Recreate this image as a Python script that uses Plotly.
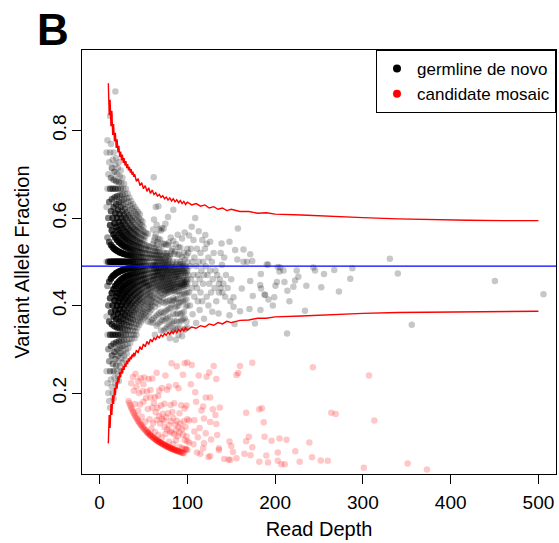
import plotly.graph_objects as go

# ---------------- axes / reference values ----------------
X_TICKS = [0, 100, 200, 300, 400, 500]
Y_TICKS = [0.2, 0.4, 0.6, 0.8]
Y_TICK_TEXT = ["0.2", "0.4", "0.6", "0.8"]
X_RANGE = [-20, 520]
Y_RANGE = [0.015, 0.984]
MEAN_VAF = 0.49

# ---------------- germline de novo: dense low-depth region ----------------
# per read depth: first alt-read count and number of variants at each consecutive alt count
GERM_DENSE_DEPTH = [8, 9, 10, 11, 12, 13, 14, 15, 16, 17, 18, 19, 20, 21, 22, 23, 24, 25, 26, 27,
                    28, 29, 30, 31, 32, 33, 34, 35, 36, 37, 38, 39, 40, 41, 42, 43, 44, 45, 46, 47,
                    48, 49, 50, 51, 52, 53, 54, 55, 56, 57, 58, 59, 60]
GERM_DENSE_K0 = [2, 2, 2, 2, 2, 3, 3, 3, 3, 4, 4, 5, 5, 5, 5, 6, 6, 7, 7, 8,
                 8, 8, 9, 9, 10, 10, 11, 11, 12, 12, 13, 13, 13, 14, 14, 15, 16, 16, 17, 17,
                 18, 18, 19, 19, 20, 20, 21, 20, 21, 22, 21, 23, 22]
GERM_DENSE_COUNTS = [
    "1 1 1 1 1", "1 1 2 2 1 1", "1 2 3 4 3 1", "1 2 4 5 4 3 1",
    "1 2 4 5 6 5 3 1 1", "1 3 5 7 6 4 2 1", "1 3 5 7 7 6 3 2",
    "1 2 4 6 8 7 5 3 1", "1 2 3 6 8 8 7 4 2 1", "1 3 5 7 9 8 6 3 2",
    "1 2 4 7 8 9 7 5 3 1 0 0 1", "2 3 6 8 9 8 6 4 2 1", "1 2 5 7 9 9 7 5 3 1",
    "1 2 4 6 8 9 8 6 4 2 1", "1 1 3 5 7 8 9 7 5 3 2 1", "1 2 4 6 8 8 8 6 4 2 1",
    "1 2 3 5 7 8 8 7 5 3 2 1", "1 2 4 6 7 8 7 6 4 2 1", "1 2 3 5 6 7 7 6 5 3 2 1",
    "1 2 4 5 7 7 7 5 4 2 1", "1 2 3 4 6 7 7 6 4 3 2 1", "1 1 2 4 5 6 7 6 5 3 2 1",
    "1 2 3 4 5 6 6 5 4 3 1 1", "1 1 2 3 5 5 6 5 4 3 2 1", "1 2 3 4 5 5 5 5 4 2 1 1",
    "1 1 2 3 4 5 5 5 4 3 2 1", "1 2 3 4 4 5 5 4 3 2 1 1", "1 1 2 3 4 4 5 4 3 3 2 1",
    "1 2 2 3 4 4 4 4 3 2 1 1", "1 1 2 3 3 4 4 4 3 2 2 1", "1 2 2 3 4 4 4 3 3 2 1 1",
    "1 1 2 2 3 3 4 3 3 2 1 1", "1 1 1 2 3 3 3 3 3 2 2 1 1", "1 1 2 2 3 3 3 3 2 2 1 1",
    "1 1 1 2 2 3 3 3 2 2 2 1 1", "1 1 1 2 2 3 3 2 2 2 1 1", "1 1 2 2 2 3 2 2 2 1 1 1",
    "1 1 1 2 2 2 2 2 2 1 1 1", "1 1 2 2 2 2 2 2 2 1 1 1", "1 1 1 2 2 2 2 2 2 1 1 1",
    "1 1 1 2 2 2 2 2 1 1 1", "1 1 1 1 2 2 2 2 1 1 1 1", "1 1 1 1 2 2 2 1 1 1 1",
    "1 1 1 1 2 2 1 1 1 1 1", "1 1 1 1 2 2 1 1 1 1", "1 0 1 1 2 1 1 1 1 0 1",
    "1 1 1 2 1 1 1 1 1", "1 0 1 1 1 1 1 1 1 1 0 1", "1 1 0 1 2 1 1 1 1 1",
    "1 1 1 1 1 1 1 1 1", "1 0 1 1 1 1 1 1 0 1 1", "1 1 1 1 1 1 1 1",
    "1 0 1 1 1 1 1 1 0 1",
]

# ---------------- germline de novo: mid depths (alt-read counts per depth) ----------------
GERM_MID_DEPTH = [61, 62, 63, 64, 65, 66, 67, 68, 69, 70, 71, 72, 73, 74, 75, 76, 77, 78, 79, 80,
                  81, 82, 83, 84, 85, 86, 87, 88, 89, 90, 91, 92, 93, 94, 95, 96, 97, 98, 99, 100]
GERM_MID_ALTS = [
    [22, 25, 27, 28, 28, 29, 30, 30, 31, 32, 33, 35], [23, 26, 28, 29, 29, 30, 30, 31, 32, 33, 34, 37],
    [21, 25, 27, 28, 29, 30, 31, 31, 32, 33, 35], [24, 26, 28, 29, 30, 31, 31, 32, 33, 34, 36, 40],
    [23, 27, 29, 30, 31, 31, 32, 33, 34, 35, 38], [25, 28, 29, 30, 31, 31, 32, 33, 34, 36],
    [24, 27, 29, 30, 31, 32, 32, 33, 34, 35, 37, 42], [26, 28, 30, 31, 32, 33, 33, 34, 35, 36, 39],
    [25, 29, 30, 31, 32, 33, 34, 35, 36, 38], [24, 27, 30, 31, 32, 33, 34, 34, 35, 36, 40],
    [26, 29, 31, 32, 33, 33, 34, 35, 36, 38, 41], [27, 30, 32, 33, 34, 34, 35, 36, 37, 39],
    [25, 28, 31, 32, 33, 34, 35, 36, 37, 38, 42], [27, 30, 32, 33, 34, 35, 36, 36, 37, 40],
    [26, 29, 32, 33, 34, 35, 36, 37, 38, 39, 44], [28, 31, 33, 34, 35, 36, 37, 38, 39, 41],
    [27, 30, 33, 34, 35, 36, 37, 37, 38, 40], [29, 32, 34, 35, 36, 37, 38, 39, 40, 42, 47],
    [28, 31, 34, 35, 36, 37, 38, 39, 40, 43], [26, 30, 33, 35, 36, 37, 38, 39, 40, 41],
    [29, 32, 35, 36, 37, 38, 39, 42, 45], [28, 33, 36, 37, 38, 39, 40, 43],
    [30, 34, 36, 37, 38, 39, 40, 41, 44], [29, 32, 35, 37, 38, 40, 41, 42, 46, 52],
    [31, 35, 37, 38, 39, 40, 41, 44], [30, 34, 37, 38, 40, 41, 42, 45],
    [28, 33, 36, 39, 40, 41, 42, 43, 47], [32, 35, 38, 39, 40, 41, 42, 44],
    [31, 34, 37, 40, 41, 42, 43, 46, 50], [30, 36, 39, 40, 42, 43, 44, 48],
    [33, 37, 40, 41, 42, 44, 45, 47], [32, 35, 39, 41, 43, 44, 46, 49],
    [34, 38, 41, 42, 44, 45, 46], [31, 36, 40, 42, 43, 45, 46, 48, 52],
    [35, 39, 42, 43, 44, 45, 47], [33, 37, 41, 43, 44, 46, 47, 50],
    [36, 40, 43, 44, 46, 47, 49, 55], [34, 39, 42, 44, 45, 46, 48],
    [36, 41, 44, 45, 47, 48, 51], [35, 40, 43, 45, 46, 48, 50, 53],
]

# ---------------- germline de novo: sparse high-depth points (depth, VAF) ----------------
GERM_SPARSE_DEPTH = [
    101, 101, 102, 102, 103, 103, 104, 104, 105, 105, 106, 106, 107, 107, 108, 108, 109, 109, 110, 110,
    111, 111, 112, 112, 113, 113, 114, 114, 115, 115, 116, 117, 117, 118, 118, 119, 119, 120, 121, 122,
    123, 124, 124, 125, 126, 127, 128, 129, 130, 131, 132, 133, 134, 136, 137, 138, 141, 142, 143, 144,
    146, 149, 150,
    157.6, 120.5, 126, 122, 139, 148, 164, 171.6, 174, 192, 205.7, 209.5, 224.6, 183.7, 243.5, 245.5,
    255.7, 267.4, 288, 285.6, 330.7, 339.8, 450.4, 505.7, 272.7, 252.6, 235.6, 226.5, 222.7, 220.8,
    214, 216.3, 210.6, 202, 200.4, 199, 192.4, 197.4, 187.9, 184, 183.3, 234, 213.6, 355.7, 170.8,
    174.6, 171.6, 162, 152.6, 160, 148, 152.6, 135.6, 177, 153.8, 128.4, 136, 138, 140, 164, 168,
    157, 139.4, 203, 205, 154.5, 183, 188.6, 190.5, 61.7,
]
GERM_SPARSE_VAF = [
    0.47, 0.52, 0.43, 0.56, 0.49, 0.40, 0.46, 0.53, 0.44, 0.58, 0.50, 0.38, 0.47, 0.55, 0.42, 0.51, 0.45, 0.60, 0.49, 0.36,
    0.53, 0.44, 0.47, 0.41, 0.50, 0.57, 0.46, 0.39, 0.52, 0.43, 0.48, 0.55, 0.41, 0.45, 0.50, 0.47, 0.37, 0.53, 0.49, 0.42,
    0.47, 0.51, 0.40, 0.45, 0.48, 0.43, 0.50, 0.46, 0.52, 0.44, 0.48, 0.41, 0.47, 0.43, 0.46, 0.52, 0.45, 0.51, 0.42, 0.47,
    0.44, 0.41, 0.46,
    0.576, 0.561, 0.546, 0.541, 0.542, 0.546, 0.528, 0.517, 0.502, 0.494, 0.487, 0.480, 0.480, 0.472, 0.487, 0.480,
    0.472, 0.481, 0.485, 0.461, 0.507, 0.473, 0.456, 0.426, 0.432, 0.442, 0.445, 0.466, 0.457, 0.443,
    0.434, 0.410, 0.454, 0.454, 0.445, 0.419, 0.414, 0.400, 0.425, 0.439, 0.390, 0.388, 0.336, 0.356, 0.392,
    0.422, 0.456, 0.439, 0.419, 0.387, 0.378, 0.397, 0.382, 0.359, 0.358, 0.386, 0.45, 0.44, 0.43, 0.50, 0.50,
    0.505, 0.493, 0.488, 0.478, 0.527, 0.447, 0.424, 0.494, 0.693,
]

# ---------------- candidate mosaic: low/mid depths (alt-read counts per depth) ----------------
RED_ARC_DEPTH = [33, 34, 35, 36, 37, 38, 39, 40, 41, 42, 43, 44, 45, 46, 47, 48, 49, 50, 51, 52,
                 53, 54, 55, 56, 57, 58, 59, 60, 61, 62, 63, 64, 65, 66, 67, 68, 69, 70, 71, 72,
                 73, 74, 75, 76, 77, 78, 79, 80, 81, 82, 83, 84, 85, 86, 87, 88, 89, 90, 91, 92,
                 93, 94, 95, 96, 97, 98, 99, 100]
RED_ARC_ALTS = [
    [6], [6], [6], [6, 8], [6], [6, 9], [6, 8], [6, 7],
    [6, 10], [6, 9], [6], [6, 7, 10], [6, 9], [6, 8],
    [6, 11], [6, 7], [6, 10], [6, 9, 11], [6, 12], [6, 7],
    [6, 10], [6, 11], [6, 6, 9], [6, 13], [6, 8], [6, 6, 11, 12],
    [6, 7], [6, 10, 14], [6, 6, 8], [6, 11], [6, 7, 12], [6, 6, 10],
    [6, 9, 16], [6, 6, 11], [6, 7, 13], [6, 6, 10, 14], [6, 9], [6, 6, 12],
    [6, 7, 10, 15], [6, 6, 11], [6, 10], [6, 6, 9, 13], [6, 8, 18], [6, 6, 11],
    [6, 9, 16], [6, 6, 12], [6, 7, 10, 17], [6, 6, 9], [6, 11, 14], [6, 6, 9, 22],
    [6, 13], [6, 6, 7, 12], [6, 9, 15], [6, 6, 11], [6, 8, 10, 19], [6, 12, 23],
    [6, 6, 9], [6, 11, 19], [6, 7, 10, 14], [6, 12], [6, 16], [6, 7, 11],
    [6, 10, 23], [6, 13], [7, 9, 16, 26], [7, 12], [7, 10, 17], [7, 9, 14, 27],
]

# ---------------- candidate mosaic: sparse high-depth points (depth, VAF) ----------------
RED_SPARSE_DEPTH = [
    105, 109, 108, 108, 102, 102, 107, 111, 115, 118, 118, 119, 119, 121, 121, 122, 124, 125, 126, 126,
    126, 127, 129, 130, 132, 133, 133, 134, 136, 136, 137, 142, 147, 148, 149, 150, 152, 156, 156, 158,
    160, 165, 167, 167, 170, 172, 174, 174, 182, 182, 185, 187, 188, 190, 192, 196, 203, 203, 205, 207,
    211, 213, 223, 228, 239, 242, 243, 252, 260, 264, 269, 301, 307, 313, 351, 373,
    112, 114, 110, 116, 104, 113,
]
RED_SPARSE_VAF = [
    0.264, 0.202, 0.138, 0.112, 0.137, 0.087, 0.083, 0.064, 0.061, 0.169, 0.074, 0.085, 0.142, 0.190, 0.108, 0.237, 0.054, 0.247, 0.190, 0.134,
    0.056, 0.094, 0.163, 0.262, 0.150, 0.129, 0.232, 0.104, 0.074, 0.070, 0.167, 0.049, 0.048, 0.089, 0.047, 0.079, 0.065, 0.051, 0.241, 0.246,
    0.262, 0.061, 0.090, 0.155, 0.100, 0.058, 0.076, 0.269, 0.043, 0.163, 0.165, 0.133, 0.100, 0.057, 0.041, 0.091, 0.064, 0.045, 0.096, 0.037,
    0.037, 0.093, 0.067, 0.043, 0.087, 0.053, 0.259, 0.046, 0.045, 0.155, 0.152, 0.029, 0.240, 0.137, 0.039, 0.025,
    0.099, 0.120, 0.180, 0.160, 0.220, 0.240,
]

# ---------------- threshold curves ----------------
THR_DEPTH = ([10, 11, 12, 13, 14, 15, 16, 17, 18, 19, 20, 21, 22, 23, 24, 25, 26, 27, 28, 29,
              30, 31, 32, 33, 34, 35, 36, 37, 38, 39]
             + [40, 42, 44, 46, 48, 50, 52, 54, 56, 58, 60, 62, 64, 66, 68, 70, 72, 74, 76, 78,
                80, 82, 84, 86, 88, 90, 92, 94, 96, 98, 100]
             + [105, 110, 115, 120, 125, 130, 135, 140, 145, 150]
             + [160, 170, 180, 190, 200]
             + [230, 270, 300, 340, 380, 420, 460, 500])
THR_UPPER = ([0.908, 0.835, 0.870, 0.810, 0.845, 0.790, 0.815, 0.775, 0.795, 0.760, 0.780, 0.750, 0.765, 0.740, 0.752,
              0.732, 0.745, 0.726, 0.737, 0.720, 0.730, 0.714, 0.723, 0.709, 0.717, 0.704, 0.712, 0.699, 0.706, 0.694]
             + [0.700, 0.684, 0.690, 0.674, 0.681, 0.667, 0.674, 0.661, 0.669, 0.656, 0.664, 0.654, 0.658, 0.650, 0.654,
                0.647, 0.651, 0.644, 0.648, 0.641, 0.646, 0.639, 0.644, 0.637, 0.642, 0.635, 0.640, 0.633, 0.638, 0.631, 0.636]
             + [0.630, 0.633, 0.627, 0.630, 0.623, 0.626, 0.620, 0.623, 0.617, 0.620]
             + [0.615, 0.615, 0.611, 0.612, 0.609]
             + [0.607, 0.603, 0.601, 0.598, 0.596, 0.595, 0.594, 0.594])
THR_LOWER = ([0.085, 0.150, 0.120, 0.175, 0.150, 0.195, 0.175, 0.212, 0.195, 0.226, 0.210, 0.238, 0.224, 0.248, 0.236,
              0.256, 0.245, 0.262, 0.253, 0.268, 0.260, 0.274, 0.266, 0.279, 0.272, 0.283, 0.277, 0.288, 0.282, 0.292]
             + [0.284, 0.298, 0.292, 0.306, 0.299, 0.312, 0.306, 0.318, 0.311, 0.323, 0.317, 0.326, 0.322, 0.330, 0.326,
                0.333, 0.329, 0.336, 0.332, 0.339, 0.334, 0.341, 0.336, 0.343, 0.338, 0.345, 0.340, 0.347, 0.342, 0.349, 0.344]
             + [0.351, 0.348, 0.354, 0.351, 0.358, 0.355, 0.361, 0.358, 0.364, 0.361]
             + [0.366, 0.367, 0.371, 0.371, 0.374]
             + [0.376, 0.380, 0.382, 0.384, 0.385, 0.386, 0.387, 0.387])

# ---------------- build point lists ----------------
gx, gy = [], []
for n, k0, s in zip(GERM_DENSE_DEPTH, GERM_DENSE_K0, GERM_DENSE_COUNTS):
    for i, c in enumerate(s.split()):
        for _ in range(int(c)):
            gx.append(n)
            gy.append((k0 + i) / n)
for n, alts in zip(GERM_MID_DEPTH, GERM_MID_ALTS):
    for k in alts:
        gx.append(n)
        gy.append(k / n)
gx += GERM_SPARSE_DEPTH
gy += GERM_SPARSE_VAF

rx, ry = [], []
for n, alts in zip(RED_ARC_DEPTH, RED_ARC_ALTS):
    for k in alts:
        rx.append(n)
        ry.append(k / n)
rx += RED_SPARSE_DEPTH
ry += RED_SPARSE_VAF

FONT = "Liberation Sans, Arial, Helvetica, sans-serif"

fig = go.Figure()
fig.add_trace(go.Scatter(x=gx, y=gy, mode="markers", showlegend=False, hoverinfo="skip",
                         marker=dict(color="rgba(0,0,0,0.22)", size=6.5, line=dict(width=0))))
fig.add_trace(go.Scatter(x=rx, y=ry, mode="markers", showlegend=False, hoverinfo="skip",
                         marker=dict(color="rgba(255,0,0,0.22)", size=6.5, line=dict(width=0))))
fig.add_trace(go.Scatter(x=THR_DEPTH, y=THR_UPPER, mode="lines", showlegend=False,
                         line=dict(color="#ff0000", width=1.4)))
fig.add_trace(go.Scatter(x=THR_DEPTH, y=THR_LOWER, mode="lines", showlegend=False,
                         line=dict(color="#ff0000", width=1.4)))
fig.add_hline(y=MEAN_VAF, line=dict(color="#0000ff", width=1.3))

# legend entries
fig.add_trace(go.Scatter(x=[None], y=[None], mode="markers", name="germline de novo",
                         marker=dict(color="black", size=8)))
fig.add_trace(go.Scatter(x=[None], y=[None], mode="markers", name="candidate mosaic",
                         marker=dict(color="red", size=8)))

axis_common = dict(ticks="outside", ticklen=9, tickwidth=1, tickcolor="black",
                   showline=True, linecolor="black", linewidth=1, mirror=True,
                   showgrid=False, zeroline=False, tickfont=dict(size=19, color="black"))

fig.update_layout(
    width=559, height=543,
    margin=dict(l=82, r=3, t=50, b=69),
    paper_bgcolor="white", plot_bgcolor="white",
    font=dict(family=FONT, size=19, color="black"),
    xaxis=dict(range=X_RANGE, tickvals=X_TICKS, ticklabelstandoff=2,
               title=dict(text="Read Depth", font=dict(size=20), standoff=10), automargin=False,
               **axis_common),
    yaxis=dict(range=Y_RANGE, tickvals=Y_TICKS, ticktext=Y_TICK_TEXT, tickangle=-90,
               ticklabelstandoff=-2,
               title=dict(text="Variant Allele Fraction", font=dict(size=20), standoff=14),
               automargin=False, **axis_common),
    legend=dict(x=1, y=1, xanchor="right", yanchor="top", bgcolor="white",
                bordercolor="black", borderwidth=1, font=dict(size=17),
                tracegroupgap=0),
    annotations=[dict(text="<b>B</b>", xref="paper", yref="paper", x=-0.099, y=1.049,
                      xanchor="left", yanchor="middle", showarrow=False,
                      font=dict(size=44, family=FONT, color="black"))],
)

fig.write_html("out.html")
